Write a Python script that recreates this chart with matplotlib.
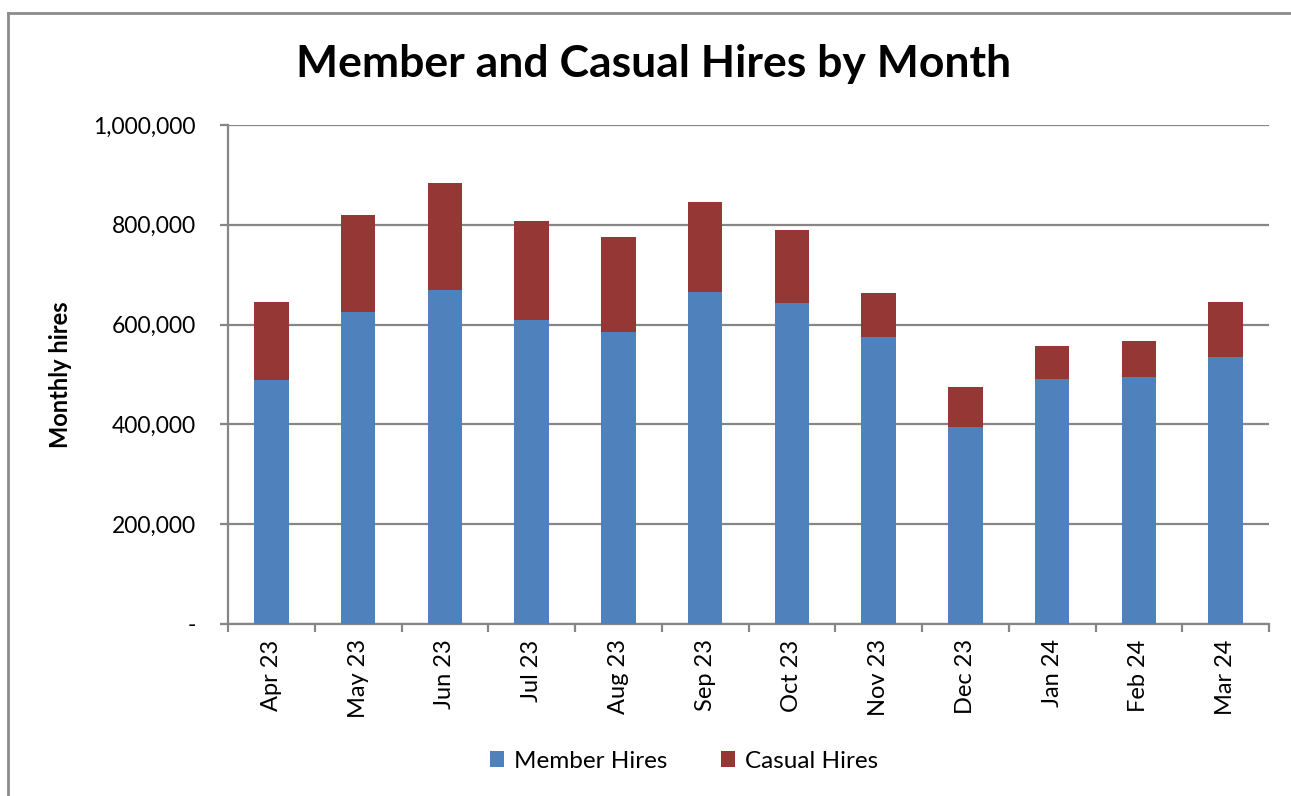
import matplotlib
matplotlib.use("Agg")
import matplotlib.pyplot as plt
from matplotlib.ticker import FuncFormatter, MultipleLocator
from matplotlib.lines import Line2D
import numpy as np

plt.rcParams['font.family'] = ['Lato', 'DejaVu Sans']

months = ['Apr 23', 'May 23', 'Jun 23', 'Jul 23', 'Aug 23', 'Sep 23',
          'Oct 23', 'Nov 23', 'Dec 23', 'Jan 24', 'Feb 24', 'Mar 24']
member_hires = [489000, 625000, 669000, 609000, 586000, 666000,
                643000, 576000, 395000, 491000, 494000, 535000]
casual_hires = [156000, 195000, 215000, 198000, 190000, 179000,
                146000, 87000, 79000, 67000, 74000, 110000]

blue = '#4F81BD'
red = '#953735'
grey = '#868686'

fig = plt.figure(figsize=(12.91, 7.96), dpi=100)
ax = fig.add_axes([228/1291, 1-624/796, 1041/1291, 499/796])

# outer chart frame (top and left edges visible)
fig.add_artist(Line2D([8/1291, 1], [1-13/796, 1-13/796], color='#8c8c8c', lw=2, transform=fig.transFigure))
fig.add_artist(Line2D([8/1291, 8/1291], [0, 1-13/796], color='#8c8c8c', lw=2, transform=fig.transFigure))

x = np.arange(len(months))
ax.bar(x, member_hires, width=0.4, color=blue, label='Member Hires', zorder=3)
ax.bar(x, casual_hires, width=0.4, bottom=member_hires, color=red, label='Casual Hires', zorder=3)

ax.set_xlim(-0.5, len(months) - 0.5)
ax.set_ylim(0, 1000000)
ax.yaxis.set_major_locator(MultipleLocator(200000))
ax.yaxis.set_major_formatter(FuncFormatter(lambda v, p: '-' if v == 0 else f'{int(v):,}'))
ax.grid(axis='y', color=grey, lw=1.6, zorder=0)

ax.set_xticks(x)
ax.set_xticklabels(months, rotation=90, fontsize=17)
ax.set_xticks(np.arange(len(months) + 1) - 0.5, minor=True)
ax.tick_params(axis='x', which='major', length=0, pad=11)
ax.tick_params(axis='x', which='minor', length=6, width=1.6, color=grey)
ax.tick_params(axis='y', length=6, width=1.6, color=grey, labelsize=16.5, pad=17)

for s in ['top', 'right']:
    ax.spines[s].set_visible(False)
for s in ['left', 'bottom']:
    ax.spines[s].set_color(grey)
    ax.spines[s].set_linewidth(1.6)

ax.set_ylabel('Monthly hires', fontsize=17, fontweight='bold')
ax.yaxis.set_label_coords(-156/1041, 0.5)

fig.text(654/1291, 1-64/796, 'Member and Casual Hires by Month',
         fontsize=32, fontweight='bold', ha='center', va='center')

fig.legend(loc='center', bbox_to_anchor=(684/1291, 1-761/796), ncol=2, frameon=False,
           fontsize=17.5, handlelength=0.6, handleheight=0.6, columnspacing=2.2, handletextpad=0.4)

fig.savefig('out.png', dpi=100)
